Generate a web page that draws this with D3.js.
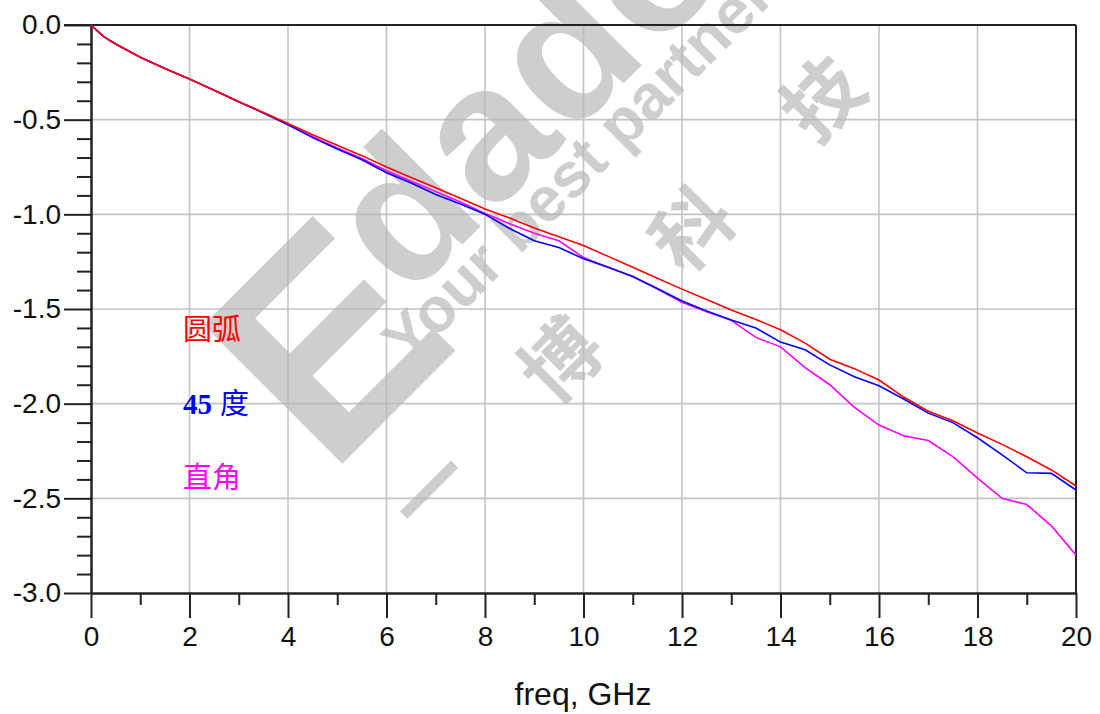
<!DOCTYPE html>
<html>
<head>
<meta charset="utf-8">
<script src="https://cdn.jsdelivr.net/npm/d3@7"></script>
<style>
body{margin:0;background:#fff;}
svg{display:block;background:#fff;}
</style>
</head>
<body>
<svg id="chart" width="1100" height="714"></svg>
<script>
"use strict";

//
//	Insertion loss (dB), one array per trace
//
var freqGHz = [0, 0.25, 0.5, 1, 1.5, 2, 2.5, 3, 3.5, 4, 4.5, 5, 5.5, 6, 6.5, 7, 7.5, 8, 8.5, 9, 9.5,
	10, 10.5, 11, 11.5, 12, 12.5, 13, 13.5, 14, 14.5, 15, 15.5, 16, 16.5, 17, 17.5, 18, 18.5, 19, 19.5, 20];

var arcLoss = [0, -0.06, -0.10, -0.17, -0.23, -0.285, -0.345, -0.405, -0.462, -0.52, -0.58, -0.635, -0.69, -0.75,
	-0.805, -0.86, -0.915, -0.972, -1.02, -1.072, -1.118, -1.165, -1.222, -1.28, -1.338, -1.395, -1.45, -1.505,
	-1.555, -1.61, -1.68, -1.765, -1.815, -1.875, -1.965, -2.04, -2.09, -2.155, -2.215, -2.28, -2.35, -2.435];

var bend45Loss = [0, -0.06, -0.10, -0.17, -0.23, -0.285, -0.345, -0.405, -0.465, -0.527, -0.595, -0.655, -0.712, -0.78,
	-0.835, -0.895, -0.945, -1.0, -1.075, -1.14, -1.175, -1.235, -1.28, -1.328, -1.392, -1.458, -1.51, -1.558,
	-1.60, -1.675, -1.715, -1.795, -1.858, -1.905, -1.975, -2.05, -2.10, -2.18, -2.27, -2.365, -2.368, -2.456];

var rightAngleLoss = [0, -0.06, -0.10, -0.17, -0.23, -0.285, -0.345, -0.405, -0.463, -0.525, -0.59, -0.65, -0.705, -0.77,
	-0.825, -0.88, -0.935, -0.995, -1.05, -1.10, -1.14, -1.228, -1.28, -1.328, -1.395, -1.465, -1.515, -1.56,
	-1.65, -1.70, -1.81, -1.90, -2.02, -2.113, -2.17, -2.195, -2.28, -2.393, -2.50, -2.533, -2.645, -2.80];

var xTicks = [0, 2, 4, 6, 8, 10, 12, 14, 16, 18, 20];
var xMinorTicks = [1, 3, 5, 7, 9, 11, 13, 15, 17, 19];
var yTicks = [0, -0.5, -1.0, -1.5, -2.0, -2.5, -3.0];
var xLabel = "freq, GHz";

var traceNames = ["圆弧", "45 度", "直角"];
var traceColors = ["#ff0000", "#0000ff", "#ff00ff"];

var watermarkWords = ["Edadoc", "Your best partner"];
var watermarkChars = ["一", "博", "科", "技"];

var LEFT = 91, RIGHT = 1076, TOP = 25, BOTTOM = 593;
var AXIS_FONT = "'Liberation Sans', Arial, sans-serif";

var svg = d3.select("#chart");

var x = d3.scaleLinear().domain([0, 20]).range([LEFT, RIGHT]);
var y = d3.scaleLinear().domain([0, -3]).range([TOP, BOTTOM]);

//
//	Grid
//
var grid = svg.append("g").attr("stroke", "#c4c4c4").attr("stroke-width", 1.6);
grid.selectAll("line.gx").data(xTicks.slice(1, -1)).enter().append("line")
	.attr("x1", function(d){ return x(d); }).attr("x2", function(d){ return x(d); })
	.attr("y1", TOP).attr("y2", BOTTOM);
grid.selectAll("line.gy").data(yTicks.slice(1, -1)).enter().append("line")
	.attr("x1", LEFT).attr("x2", RIGHT)
	.attr("y1", function(d){ return y(d); }).attr("y2", function(d){ return y(d); });

//
//	Watermark (logo laid on a -45deg baseline), drawn under the traces
//	local x runs along the baseline, local y points down-right
//
var wm = svg.append("g").attr("transform", "translate(343,463) rotate(-45)")
	.attr("fill", "#b9b7b7").attr("opacity", 0.68)
	.attr("font-family", AXIS_FONT).attr("font-weight", "bold");

wm.append("text").attr("x", -20).attr("y", 0).attr("font-size", 285)
	.text(watermarkWords[0].charAt(0));
wm.append("text").attr("x", 160).attr("y", -70).attr("font-size", 192).attr("letter-spacing", 2)
	.text(watermarkWords[0].slice(1));
wm.append("text").attr("x", 115).attr("y", -22).attr("font-size", 63)
	.text(watermarkWords[1]);

wm.selectAll("text.cj").data(watermarkChars).enter().append("text")
	.attr("class", "cj")
	.attr("x", function(d, i){ return 42 + i * 185; })
	.attr("y", 76)
	.attr("font-family", "'Noto Sans CJK SC', sans-serif")
	.attr("font-size", 78)
	.attr("text-anchor", "middle")
	.attr("dominant-baseline", "central")
	.text(function(d){ return d; });

//
//	Axes: major + minor ticks, frame
//
var fmt = function(d){ return d.toFixed(1); };

var yAxis = svg.append("g").attr("transform", "translate(" + LEFT + ",0)")
	.call(d3.axisLeft(y).tickValues(yTicks).tickSize(27).tickSizeOuter(0).tickPadding(3).tickFormat(fmt));
var yMinor = svg.append("g").attr("transform", "translate(" + LEFT + ",0)")
	.call(d3.axisLeft(y).tickValues(d3.range(-0.1, -3.0, -0.1).filter(function(v){
		return Math.abs(v * 2 - Math.round(v * 2)) > 0.01;
	})).tickSize(14).tickSizeOuter(0).tickFormat(""));

var xAxis = svg.append("g").attr("transform", "translate(0," + BOTTOM + ")")
	.call(d3.axisBottom(x).tickValues(xTicks).tickSize(25).tickSizeOuter(0).tickPadding(8).tickFormat(d3.format("d")));
var xMinor = svg.append("g").attr("transform", "translate(0," + BOTTOM + ")")
	.call(d3.axisBottom(x).tickValues(xMinorTicks).tickSize(12).tickSizeOuter(0).tickFormat(""));

[yAxis, yMinor, xAxis, xMinor].forEach(function(a){
	a.selectAll("path.domain").attr("stroke", "#222").attr("stroke-width", 2);
	a.selectAll(".tick line").attr("stroke", "#222").attr("stroke-width", 2);
	a.selectAll(".tick text").attr("fill", "#111").attr("font-size", 28).attr("font-family", AXIS_FONT);
});

// top edge reaches out like a tick, right edge closes the box
svg.append("line").attr("x1", LEFT - 27).attr("x2", RIGHT).attr("y1", TOP).attr("y2", TOP)
	.attr("stroke", "#222").attr("stroke-width", 2);
svg.append("line").attr("x1", RIGHT).attr("x2", RIGHT).attr("y1", TOP).attr("y2", BOTTOM)
	.attr("stroke", "#222").attr("stroke-width", 2);

svg.append("text").attr("x", 583).attr("y", 705).attr("text-anchor", "middle")
	.attr("font-family", AXIS_FONT).attr("font-size", 32).attr("fill", "#111").text(xLabel);

//
//	Traces
//
var traces = [arcLoss, bend45Loss, rightAngleLoss];
var line = d3.line().x(function(d){ return x(d[0]); }).y(function(d){ return y(d[1]); });

// right angle first so the arc trace sits on top, as in the plot
[2, 1, 0].forEach(function(k){
	svg.append("path")
		.datum(d3.zip(freqGHz, traces[k]))
		.attr("fill", "none")
		.attr("stroke", traceColors[k])
		.attr("stroke-width", 1.6)
		.attr("d", line);
});

//
//	Trace labels
//
var labelY = [340, 414, 488];
var labels = svg.append("g").attr("font-size", 29);
traceNames.forEach(function(name, i){
	var t = labels.append("text").attr("x", 183).attr("y", labelY[i]).attr("fill", traceColors[i]);
	if(i == 1){
		var parts = name.split(" ");
		t.append("tspan").attr("font-family", "'Liberation Serif', 'DejaVu Serif', serif")
			.attr("font-weight", "bold").text(parts[0]);
		t.append("tspan").attr("font-family", "'Noto Sans CJK SC', sans-serif").attr("dx", 8).text(parts[1]);
	}else{
		t.attr("font-family", "'Noto Sans CJK SC', sans-serif").text(name);
	}
});
</script>
</body>
</html>
